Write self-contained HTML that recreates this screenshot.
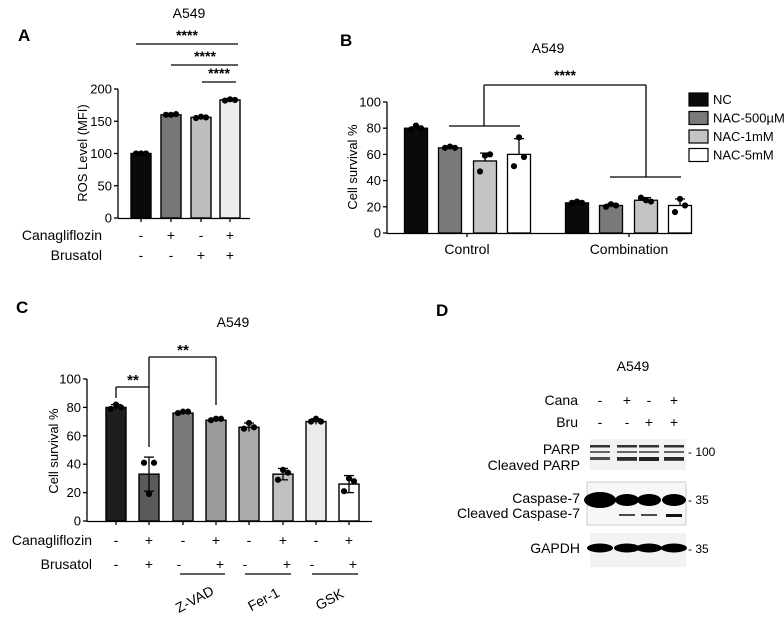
<!DOCTYPE html>
<html><head><meta charset="utf-8"><style>
body{margin:0;background:#fff;}
svg{display:block;font-family:"Liberation Sans",Arial,sans-serif;}
</style></head><body>
<svg id="fig" width="784" height="622" viewBox="0 0 784 622"></svg>
<script>
// Panel A data
const aCategories = ["NC","Cana","Bru","Cana+Bru"];
const aValues = [100,160,156,183];
const aPoints = [[100,100,100],[160,160,161],[155,157,156],[182,184,183]];
const aTicks = [0,50,100,150,200];
const aColors = ["#0a0a0a","#777","#bdbdbd","#ececec"];
// Panel B data
const bGroups = ["Control","Combination"];
const bSeries = ["NC","NAC-500µM","NAC-1mM","NAC-5mM"];
const bValues = [[80,65,55,60],[23,21,25,21]];
const bSD = [[1,1,6,12],[1,1,2,5]];
const bPoints = [[[79,82,80],[65,66,65],[47,59,60],[51,73,58]],[[23,24,23],[20,22,21],[27,25,24],[16,26,21]]];
const bTicks = [0,20,40,60,80,100];
const bColors = ["#0a0a0a","#7a7a7a","#c4c4c4","#ffffff"];
// Panel C data
const cValues = [80,33,76,71,66,33,70,26];
const cSD = [2,12,1,1,3,4,2,6];
const cPoints = [[79,82,80],[41,19,41],[76,77,77],[71,72,72],[65,69,66],[29,36,34],[70,72,70],[21,30,28]];
const cTicks = [0,20,40,60,80,100];
const cColors = ["#1e1e1e","#5a5a5a","#7a7a7a","#9a9a9a","#ababab","#c0c0c0","#ebebeb","#ffffff"];
const cCana = ["-","+","-","+","-","+","-","+"];
const cBru = ["-","+","-","+","-","+","-","+"];

const NS="http://www.w3.org/2000/svg";
const svg=document.getElementById('fig');
function mk(tag,attrs,name,txt){const e=document.createElementNS(NS,tag);for(const k in attrs)e.setAttribute(k,attrs[k]);


if(txt!==undefined)e.textContent=txt;svg.appendChild(e);return e;}
function line(x1,y1,x2,y2,name,w){return mk('line',{x1,y1,x2,y2,stroke:'#000','stroke-width':w||1.3},name);}
function text(x,y,s,size,name,anchor,extra){const a={x,y,'font-size':size,'text-anchor':anchor||'middle',fill:'#000'};Object.assign(a,extra||{});return mk('text',a,name,s);}
function yAxis(x0,yOf,ticks,name){line(x0,yOf(ticks[ticks.length-1]),x0,yOf(0)+0.5,name+'-y-axis');
ticks.forEach(t=>{line(x0-4,yOf(t),x0,yOf(t),name+'-y-tick');text(x0-6,yOf(t)+4.5,String(t),13,name+'-y-tick-label','end');});}
function dots(cx,pts,yOf,name){const off=[-5,0,5];pts.forEach((p,i)=>mk('circle',{cx:cx+off[i],cy:yOf(p),r:3.1,fill:'#000'},name));}

// ---------- Panel A ----------
text(18,41,"A",17,'panel-a-label','start',{'font-weight':'bold'});
text(189,18,"A549",14,'panel-a-title');
{const y=v=>218-v*129/200;const xs=[141,171,201,230];
yAxis(118,y,aTicks,'panel-a');line(118,218.5,250,218.5,'panel-a-x-axis');
aValues.forEach((v,i)=>{mk('rect',{x:xs[i]-10,y:y(v),width:20,height:218-y(v),fill:aColors[i],stroke:'#000','stroke-width':1.4},'bar-a-'+aCategories[i]);
dots(xs[i],aPoints[i],y,'point-a');line(xs[i],218,xs[i],222,'panel-a-x-tick');});
text(87,153,"ROS Level  (MFI)",13,'panel-a-y-axis-title','middle',{transform:'rotate(-90 87 153)'});
text(102,240,"Canagliflozin",14,'row-label-canagliflozin','end');text(102,260,"Brusatol",14,'row-label-brusatol','end');
["-","+","-","+"].forEach((s,i)=>text(xs[i],240,s,14,'cana-sign'));["-","-","+","+"].forEach((s,i)=>text(xs[i],260,s,14,'bru-sign'));
line(136,44,238,44,'sig-line-a1');text(187,40,"****",14,'sig-stars-a1','middle',{'font-weight':'bold'});
line(171,65,238,65,'sig-line-a2');text(205,61,"****",14,'sig-stars-a2','middle',{'font-weight':'bold'});
line(202,82,236,82,'sig-line-a3');text(219,78,"****",14,'sig-stars-a3','middle',{'font-weight':'bold'});}

// ---------- Panel B ----------
text(340,46,"B",17,'panel-b-label','start',{'font-weight':'bold'});
text(548,53,"A549",14,'panel-b-title');
{const y=v=>233-v*1.31;const gx=[[416,450,485,519],[577,611,646,680]];
yAxis(387,y,bTicks,'panel-b');line(387,233.5,692,233.5,'panel-b-x-axis');
bValues.forEach((g,gi)=>g.forEach((v,i)=>{const cx=gx[gi][i];
mk('rect',{x:cx-11.5,y:y(v),width:23,height:233-y(v),fill:bColors[i],stroke:'#000','stroke-width':1.3},'bar-b-'+bGroups[gi]+'-'+i);
line(cx,y(v+bSD[gi][i]),cx,y(v),'error-bar-b');line(cx-5,y(v+bSD[gi][i]),cx+5,y(v+bSD[gi][i]),'error-cap-b');
dots(cx,bPoints[gi][i],y,'point-b');}));
line(467,233,467,237,'panel-b-x-tick');line(629,233,629,237,'panel-b-x-tick');
text(467,254,"Control",14,'group-label-control');text(629,254,"Combination",14,'group-label-combination');
text(357,167,"Cell survival %",13,'panel-b-y-axis-title','middle',{transform:'rotate(-90 357 167)'});
line(449,126,520,126,'sig-b-left-bracket');line(610,177,681,177,'sig-b-right-bracket');
line(484,85,646,85,'sig-b-top');line(484,85,484,126,'sig-b-left-drop');line(646,85,646,177,'sig-b-right-drop');
text(565,80,"****",14,'sig-stars-b','middle',{'font-weight':'bold'});
bSeries.forEach((s,i)=>{const yy=93+i*18.5;mk('rect',{x:689,y:yy,width:19,height:13,fill:bColors[i],stroke:'#000','stroke-width':1.2},'legend-swatch-'+i);
text(713,yy+11,s,13,'legend-entry-'+i,'start');});}

// ---------- Panel C ----------
text(16,313,"C",17,'panel-c-label','start',{'font-weight':'bold'});
text(233,327,"A549",14,'panel-c-title');
{const y=v=>521-v*1.42;const xs=[116,149,183,216,249,283,316,349];
yAxis(87,y,cTicks,'panel-c');line(87,521.5,372,521.5,'panel-c-x-axis');
cValues.forEach((v,i)=>{const cx=xs[i];
mk('rect',{x:cx-10,y:y(v),width:20,height:521-y(v),fill:cColors[i],stroke:'#000','stroke-width':1.4},'bar-c-'+i);
line(cx,y(v+cSD[i]),cx,y(Math.max(v-cSD[i],0)),'error-bar-c');line(cx-5,y(v+cSD[i]),cx+5,y(v+cSD[i]),'error-cap-c');
if(cSD[i]>3)line(cx-5,y(v-cSD[i]),cx+5,y(v-cSD[i]),'error-cap-c');
dots(cx,cPoints[i],y,'point-c');line(cx,521,cx,525,'panel-c-x-tick');
text(cx,545,cCana[i],14,'cana-sign-c');text(cx+(i>=2?4:0)*(i%2?1:-1),569,cBru[i],14,'bru-sign-c');});
text(58,451,"Cell survival %",13,'panel-c-y-axis-title','middle',{transform:'rotate(-90 58 451)'});
text(92,545,"Canagliflozin",14,'row-label-canagliflozin-c','end');text(92,569,"Brusatol",14,'row-label-brusatol-c','end');
[[180,225,"Z-VAD",195],[245,291,"Fer-1",264],[312,358,"GSK",330]].forEach(g=>{line(g[0],574,g[1],574,'inhibitor-underline');
text(g[3],604,g[2],14,'inhibitor-label-'+g[2],'middle',{transform:`rotate(-28 ${g[3]} 600)`});});
line(116,387,149,387,'sig-c1');line(116,387,116,398,'sig-c1-left');line(149,387,149,447,'sig-c1-right');
text(133,385,"**",15,'sig-stars-c1','middle',{'font-weight':'bold'});
line(149,357,216,357,'sig-c2');line(149,357,149,387,'sig-c2-left');line(216,357,216,405,'sig-c2-right');
text(183,355,"**",15,'sig-stars-c2','middle',{'font-weight':'bold'});}

// ---------- Panel D ----------
text(436,316,"D",17,'panel-d-label','start',{'font-weight':'bold'});
text(633,371,"A549",14,'panel-d-title');
{const lx=[600,627,649,674];
text(578,405,"Cana",14,'row-label-cana','end');text(578,427,"Bru",14,'row-label-bru','end');
["-","+","-","+"].forEach((s,i)=>text(lx[i],405,s,14,'cana-sign-d'));["-","-","+","+"].forEach((s,i)=>text(lx[i],427,s,14,'bru-sign-d'));
mk('rect',{x:590,y:439,width:96,height:31,fill:'#f2f2f2'},'blot-parp');
mk('rect',{x:587,y:482,width:99,height:43,fill:'#f7f7f7',stroke:'#999','stroke-width':0.5},'blot-caspase7');
mk('rect',{x:590,y:533,width:96,height:34,fill:'#f2f2f2'},'blot-gapdh');
const pw=[0.5,0.9,1,0.9];const cw=[0,0.5,0.5,1];
lx.forEach((x,i)=>{
mk('rect',{x:x-10,y:445,width:20,height:2.5,fill:'#333'},'band-parp');mk('rect',{x:x-10,y:451,width:20,height:2,fill:'#666'},'band-parp');
mk('rect',{x:x-10,y:457,width:20,height:2+2*pw[i],fill:'#222',opacity:0.6+0.4*pw[i]},'band-cleaved-parp');
mk('ellipse',{cx:x,cy:500,rx:i==0?16:12,ry:i==0?8:6,fill:'#000'},'band-caspase7');
if(cw[i])mk('rect',{x:x-8,y:514,width:16,height:1+2*cw[i],fill:'#111',opacity:0.5+0.5*cw[i]},'band-cleaved-caspase7');
mk('ellipse',{cx:x,cy:548,rx:13,ry:4.5,fill:'#000'},'band-gapdh');});
text(580,454,"PARP",14,'label-parp','end');text(580,470,"Cleaved PARP",14,'label-cleaved-parp','end');
text(580,503,"Caspase-7",14,'label-caspase7','end');text(580,518,"Cleaved Caspase-7",14,'label-cleaved-caspase7','end');
text(580,553,"GAPDH",14,'label-gapdh','end');
text(688,456,"- 100",12,'marker-100','start');text(688,504,"- 35",12,'marker-35a','start');text(688,553,"- 35",12,'marker-35b','start');}
</script>
</body></html>
